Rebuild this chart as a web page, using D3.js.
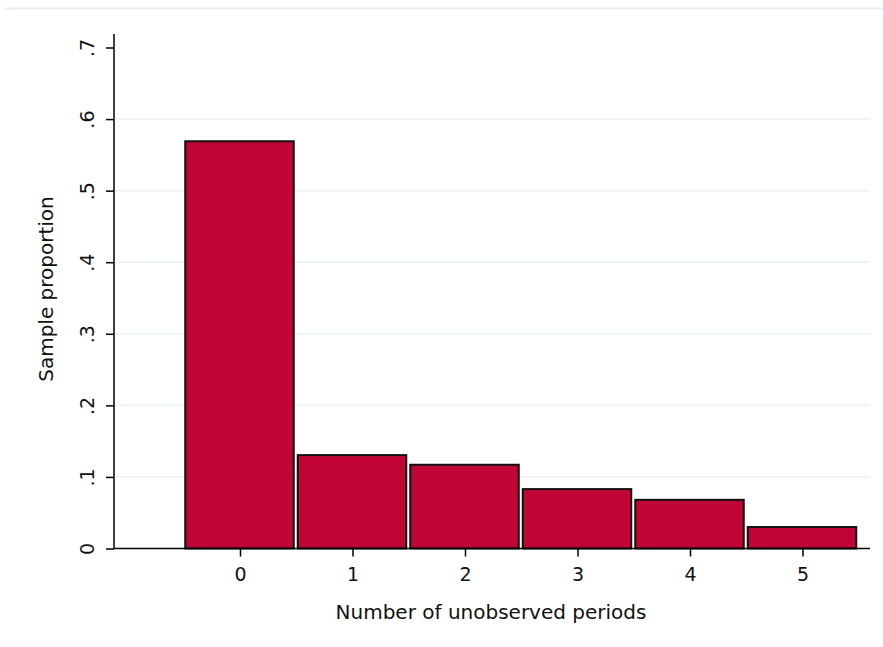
<!DOCTYPE html>
<html>
<head>
	<style>
		body { margin: 0; background: #fff; }
		svg text { font-family: "DejaVu Sans", sans-serif; fill: #111; }
	</style>
</head>
<body>
	<div id="chart"></div>
	<script src="https://cdn.jsdelivr.net/npm/d3@7/dist/d3.min.js"></script>
	<script>
		// data
		var periods = [0, 1, 2, 3, 4, 5];
		var proportions = [0.569, 0.1305, 0.117, 0.083, 0.068, 0.030];
		var yTicks = [0, 0.1, 0.2, 0.3, 0.4, 0.5, 0.6, 0.7];
		var yTickLabels = ['0', '.1', '.2', '.3', '.4', '.5', '.6', '.7'];

		var width = 883, height = 647;
		var svg = d3.select('#chart').append('svg')
			.attr('width', width).attr('height', height);

		// faint frame line at the top
		svg.append('line')
			.attr('x1', 5).attr('x2', width).attr('y1', 8.5).attr('y2', 8.5)
			.attr('stroke', '#e6eef2').attr('stroke-width', 2);

		var x = d3.scaleLinear().domain([-1.12, 5.6]).range([114, 870]);
		var y = d3.scaleLinear().domain([0, 0.7]).range([548.5, 47.5]);

		// gridlines
		svg.append('g').selectAll('line')
			.data(yTicks.filter(function (d) { return d > 0 && d < 0.7; }))
			.enter().append('line')
			.attr('x1', 115).attr('x2', 870)
			.attr('y1', function (d) { return y(d); })
			.attr('y2', function (d) { return y(d); })
			.attr('stroke', '#eaf2f3').attr('stroke-width', 1.5);

		// bars
		svg.append('g').selectAll('rect')
			.data(periods)
			.enter().append('rect')
			.attr('x', function (d) { return x(d - 0.5) + 1.5; })
			.attr('width', function (d) { return x(d + 0.5) - x(d - 0.5) - 4; })
			.attr('y', function (d, i) { return y(proportions[i]); })
			.attr('height', function (d, i) { return y(0) - y(proportions[i]); })
			.attr('fill', '#c10534')
			.attr('stroke', '#111').attr('stroke-width', 2);

		// y axis
		var yAxis = d3.axisLeft(y)
			.tickValues(yTicks)
			.tickFormat(function (d, i) { return yTickLabels[i]; })
			.tickSize(8).tickPadding(6);
		var gy = svg.append('g').attr('transform', 'translate(114,0)').call(yAxis);
		gy.select('.domain').remove();
		gy.append('line').attr('x1', 0).attr('x2', 0).attr('y1', 34).attr('y2', 549)
			.attr('stroke', '#000').attr('stroke-width', 1.5);
		gy.selectAll('.tick line').attr('stroke', '#000').attr('stroke-width', 1.5);
		gy.selectAll('.tick text')
			.attr('font-size', 19)
			.attr('transform', 'rotate(-90)')
			.attr('x', 0).attr('y', -20)
			.attr('dy', 0)
			.attr('text-anchor', 'middle');

		// x axis
		var xAxis = d3.axisBottom(x)
			.tickValues(periods)
			.tickFormat(d3.format('d'))
			.tickSize(8).tickPadding(10);
		var gx = svg.append('g').attr('transform', 'translate(0,548.5)').call(xAxis);
		gx.select('.domain').remove();
		gx.append('line').attr('x1', 114).attr('x2', 870).attr('y1', 0).attr('y2', 0)
			.attr('stroke', '#000').attr('stroke-width', 1.5);
		gx.selectAll('.tick line').attr('stroke', '#000').attr('stroke-width', 1.5);
		gx.selectAll('.tick text').attr('font-size', 19).attr('dy', '0.75em');

		// axis titles
		svg.append('text')
			.attr('x', 491).attr('y', 619)
			.attr('text-anchor', 'middle').attr('font-size', 20)
			.text('Number of unobserved periods');
		svg.append('text')
			.attr('transform', 'translate(53,289) rotate(-90)')
			.attr('text-anchor', 'middle').attr('font-size', 20)
			.text('Sample proportion');
	</script>
</body>
</html>
